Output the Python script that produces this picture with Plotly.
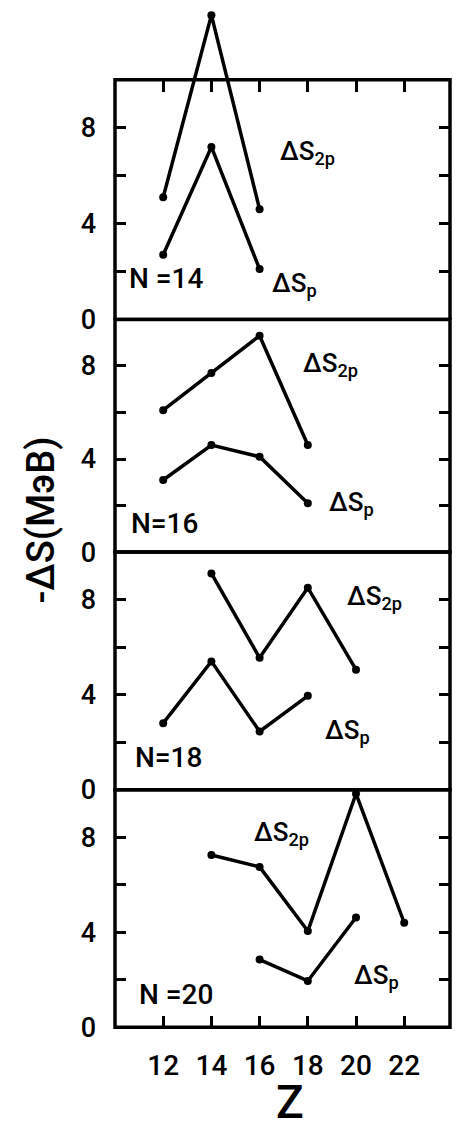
import plotly.graph_objects as go

# ---------------- data ----------------
N_labels = ["N =14", "N=16", "N=18", "N =20"]

Z_N14 = [12, 14, 16]
S2p_N14 = [5.1, 12.7, 4.6]
Sp_N14 = [2.7, 7.2, 2.1]

Z_N16 = [12, 14, 16, 18]
S2p_N16 = [6.1, 7.7, 9.3, 4.6]
Sp_N16 = [3.1, 4.6, 4.1, 2.1]

Z2p_N18 = [14, 16, 18, 20]
S2p_N18 = [9.1, 5.55, 8.5, 5.05]
Zp_N18 = [12, 14, 16, 18]
Sp_N18 = [2.8, 5.4, 2.45, 3.95]

Z2p_N20 = [14, 16, 18, 20, 22]
S2p_N20 = [7.25, 6.75, 4.05, 9.83, 4.4]
Zp_N20 = [16, 18, 20]
Sp_N20 = [2.85, 1.95, 4.62]

x_ticks = [12, 14, 16, 18, 20, 22]
y_major = [0, 4, 8]
y_minor = [2, 6, 10]

label_2p = "ΔS<sub>2p</sub>"
label_p = "ΔS<sub>p</sub>"
y_title = "-ΔS(MэB)"
x_title = "Z"

# ---------------- layout helpers ----------------
W, H = 457, 1133
def py(px):
    return 1 - px / H

x_dom = [115 / W, 450 / W]
x_range = [10, 23.9]
panels = [(81, 324), (324, 560), (560, 801), (801, 1042)]
top_range = 13.2
p1_scale = (324 - 81) / 10.0
p1_top_px = 324 - top_range * p1_scale

FONT = "Roboto"
line_style = dict(color="black", width=3.5)
marker_style = dict(color="black", size=8)

fig = go.Figure()

series = [
    ("y", [(Z_N14, S2p_N14), (Z_N14, Sp_N14)]),
    ("y2", [(Z_N16, S2p_N16), (Z_N16, Sp_N16)]),
    ("y3", [(Z2p_N18, S2p_N18), (Zp_N18, Sp_N18)]),
    ("y4", [(Z2p_N20, S2p_N20), (Zp_N20, Sp_N20)]),
]
for yref, pairs in series:
    for xs, ys in pairs:
        fig.add_trace(go.Scatter(
            x=xs, y=ys, xaxis="x", yaxis=yref, mode="lines+markers",
            line=line_style, marker=marker_style, showlegend=False,
            cliponaxis=False,
        ))

yaxis_common = dict(
    anchor="x", showgrid=False, zeroline=False, showline=False,
    ticks="inside", ticklen=11, tickwidth=3, tickcolor="black",
    mirror="ticks", tickvals=y_major,
    minor=dict(tickvals=y_minor, ticks="inside", ticklen=11, tickwidth=3,
               tickcolor="black", showgrid=False),
    tickfont=dict(family=FONT, size=27, color="black", weight=500),
    ticklabelstandoff=18,
)

layout = dict(
    width=W, height=H,
    margin=dict(l=0, r=0, t=0, b=0),
    paper_bgcolor="white", plot_bgcolor="white",
    showlegend=False,
    xaxis=dict(
        domain=x_dom, range=x_range, anchor="y4",
        tickvals=x_ticks, ticks="inside", ticklen=11, tickwidth=3,
        tickcolor="black", showgrid=False, zeroline=False, showline=False,
        tickfont=dict(family=FONT, size=28, color="black", weight=500),
        ticklabelstandoff=19,
    ),
    xaxis2=dict(
        domain=x_dom, range=x_range, overlaying="x", side="top",
        anchor="free", position=py(panels[0][0]),
        tickvals=x_ticks, ticks="inside", ticklen=11, tickwidth=3,
        tickcolor="black", showticklabels=False, showgrid=False,
        zeroline=False, showline=False,
    ),
    yaxis=dict(domain=[py(panels[0][1]), py(p1_top_px)], range=[0, top_range], **yaxis_common),
    yaxis2=dict(domain=[py(panels[1][1]), py(panels[1][0])], range=[0, 10], **yaxis_common),
    yaxis3=dict(domain=[py(panels[2][1]), py(panels[2][0])], range=[0, 10], **yaxis_common),
    yaxis4=dict(domain=[py(panels[3][1]), py(panels[3][0])], range=[0, 10], **yaxis_common),
)
fig.update_layout(**layout)

# invisible trace so xaxis2 renders
fig.add_trace(go.Scatter(x=[x_range[0]], y=[0], xaxis="x2", yaxis="y",
                         mode="markers", marker=dict(opacity=0), showlegend=False,
                         hoverinfo="skip"))

# frames
frame = dict(color="black", width=3.5)
fig.add_shape(type="rect", xref="x domain", yref="y", x0=0, x1=1, y0=0, y1=10, line=frame, layer="above")
for yr in ["y2", "y3", "y4"]:
    fig.add_shape(type="rect", xref="x domain", yref=f"{yr} domain", x0=0, x1=1, y0=0, y1=1,
                  line=frame, layer="above")

ann_pos = [
    ("y", [(label_2p, 16.75, 6.95), (label_p, 16.45, 1.45), (N_labels[0], 10.5, 1.7)]),
    ("y2", [(label_2p, 17.7, 8.05), (label_p, 18.8, 2.1), (N_labels[1], 10.6, 1.25)]),
    ("y3", [(label_2p, 19.55, 8.1), (label_p, 18.65, 2.45), (N_labels[2], 10.75, 1.35)]),
    ("y4", [(label_2p, 15.7, 8.15), (label_p, 19.85, 2.15), (N_labels[3], 10.9, 1.4)]),
]
for yref, items in ann_pos:
    for txt, xv, yv in items:
        size = 28 if txt.startswith("N") else 26
        fig.add_annotation(x=xv, y=yv, xref="x", yref=yref, text=txt, showarrow=False,
                           xanchor="left", yanchor="middle",
                           font=dict(family=FONT, size=size, color="black", weight=500))

fig.add_annotation(x=41 / W, y=py(528), xref="paper", yref="paper", text=y_title,
                   textangle=-90, showarrow=False, xanchor="center", yanchor="middle",
                   font=dict(family=FONT, size=38, color="black", weight=500))
fig.add_annotation(x=290 / W, y=py(1118), xref="paper", yref="paper", text=x_title,
                   showarrow=False, xanchor="center", yanchor="middle",
                   font=dict(family=FONT, size=46, color="black", weight=500))

fig.write_html("out.html")
